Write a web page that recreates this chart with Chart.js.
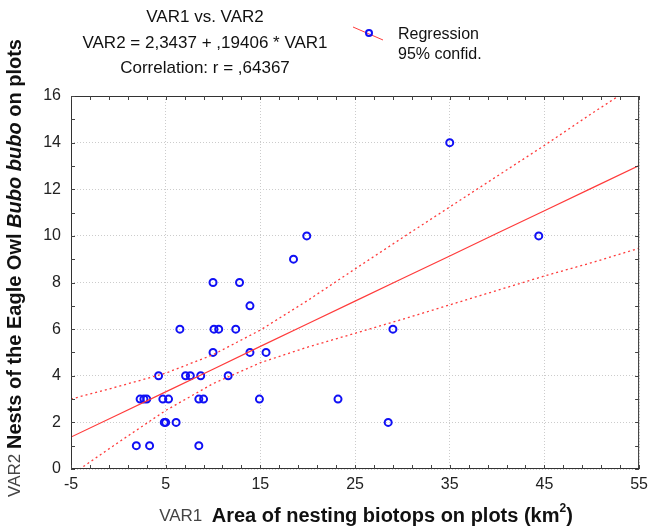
<!DOCTYPE html>
<html>
<head>
<meta charset="utf-8">
<script src="https://cdn.jsdelivr.net/npm/chart.js@4/dist/chart.umd.min.js"></script>
<style>
  html, body { margin: 0; padding: 0; background: #fff; }
  #wrap { width: 654px; height: 528px; }
</style>
</head>
<body>
<div id="wrap"><canvas id="chart" width="654" height="528"></canvas></div>
<script>
// observations (VAR1 = area km2, VAR2 = nests)
const var1 = [10, 12.8, 13.9, 6.5, 10.1, 10.6, 12.4, 10, 13.9, 15.6,
              4.25, 7.1, 7.6, 8.7, 11.6, 2.3, 2.7, 3.0, 4.7, 5.3,
              8.5, 9.0, 14.9, 4.85, 5.0, 6.1, 1.9, 3.3, 8.5, 35,
              19.9, 44.4, 18.5, 23.2, 29, 28.5];
const var2 = [8, 8, 7, 6, 6, 6, 6, 5, 5, 5,
              4, 4, 4, 4, 4, 3, 3, 3, 3, 3,
              3, 3, 3, 2, 2, 2, 1, 1, 1, 14,
              10, 10, 9, 3, 6, 2];

// regression line and 95% band, read at these x positions
const lineX = [-5, 0, 5, 10, 15, 20, 25, 30, 35, 40, 45, 50, 55];
const regY = [1.37, 2.34, 3.31, 4.28, 5.26, 6.23, 7.2, 8.17, 9.14, 10.11, 11.08, 12.05, 13.02];
const upperY = [3.0, 3.54, 4.11, 4.9, 5.96, 7.23, 8.58, 9.92, 11.24, 12.56, 13.88, 15.25, 16.57];
const lowerY = [-0.26, 1.14, 2.51, 3.66, 4.56, 5.23, 5.82, 6.42, 7.04, 7.66, 8.28, 8.85, 9.47];

const titleLines = ['VAR1 vs. VAR2', 'VAR2 = 2,3437 + ,19406 * VAR1', 'Correlation: r = ,64367'];
const legendLabels = ['Regression', '95% confid.'];

const RED = '#ff3b3b';
const BLUE = '#1010f5';
const FONT = '"Liberation Sans", Arial, sans-serif';
const NARROW = '"Liberation Sans Narrow", "Liberation Sans", Arial, sans-serif';

function toXY(xs, ys) {
  return xs.map((x, i) => ({x: x, y: ys[i]}));
}

const extras = {
  id: 'extras',
  afterDraw(chart) {
    const ctx = chart.ctx;
    const a = chart.chartArea;
    const sx = chart.scales.x, sy = chart.scales.y;
    ctx.save();

    // frame
    ctx.strokeStyle = '#333';
    ctx.lineWidth = 1;
    ctx.strokeRect(a.left + 0.5, a.top + 0.5, a.right - a.left - 1, a.bottom - a.top - 1);

    // minor ticks pointing inward
    ctx.strokeStyle = '#444';
    ctx.beginPath();
    for (let v = -5; v <= 55; v += 2) {
      const px = Math.round(sx.getPixelForValue(v)) + 0.5;
      ctx.moveTo(px, a.bottom); ctx.lineTo(px, a.bottom - 4);
      ctx.moveTo(px, a.top); ctx.lineTo(px, a.top + 4);
    }
    for (let v = 0; v <= 16; v += 1) {
      const py = Math.round(sy.getPixelForValue(v)) + 0.5;
      ctx.moveTo(a.left, py); ctx.lineTo(a.left + 4, py);
      ctx.moveTo(a.right, py); ctx.lineTo(a.right - 4, py);
    }
    ctx.stroke();

    // title block
    ctx.fillStyle = '#111';
    ctx.font = '17px ' + FONT;
    ctx.textAlign = 'center';
    ctx.textBaseline = 'middle';
    const ty = [17, 43, 68];
    titleLines.forEach((t, i) => ctx.fillText(t, 205, ty[i]));

    // legend
    ctx.strokeStyle = RED;
    ctx.lineWidth = 1;
    ctx.beginPath();
    ctx.moveTo(353, 27); ctx.lineTo(383, 40);
    ctx.stroke();
    ctx.strokeStyle = BLUE;
    ctx.lineWidth = 2;
    ctx.beginPath();
    ctx.arc(369, 33, 3, 0, Math.PI * 2);
    ctx.stroke();
    ctx.textAlign = 'left';
    ctx.fillStyle = '#111';
    ctx.font = '16px ' + FONT;
    ctx.fillText(legendLabels[0], 398, 35);
    ctx.fillText(legendLabels[1], 398, 55);

    // x axis title
    const xParts = [
      {t: 'VAR1  ', f: '17px ' + NARROW, c: '#444'},
      {t: 'Area of nesting biotops on plots (km', f: 'bold 20px ' + FONT, c: '#111'},
      {t: '2', f: 'bold 12px ' + FONT, c: '#111', up: 7},
      {t: ')', f: 'bold 20px ' + FONT, c: '#111'}
    ];
    drawParts(ctx, xParts, 366, 516);

    // y axis title (rotated)
    ctx.translate(15, 268);
    ctx.rotate(-Math.PI / 2);
    const yParts = [
      {t: 'VAR2 ', f: '17px ' + NARROW, c: '#444'},
      {t: 'Nests of the Eagle Owl ', f: 'bold 20px ' + FONT, c: '#111'},
      {t: 'Bubo bubo', f: 'italic bold 20px ' + FONT, c: '#111'},
      {t: ' on plots', f: 'bold 20px ' + FONT, c: '#111'}
    ];
    drawParts(ctx, yParts, 0, 0);
    ctx.restore();
  }
};

function drawParts(ctx, parts, cx, cy) {
  let w = 0;
  parts.forEach(p => { ctx.font = p.f; w += ctx.measureText(p.t).width; });
  let x = cx - w / 2;
  ctx.textAlign = 'left';
  ctx.textBaseline = 'middle';
  parts.forEach(p => {
    ctx.font = p.f;
    ctx.fillStyle = p.c;
    ctx.fillText(p.t, x, cy - (p.up || 0));
    x += ctx.measureText(p.t).width;
  });
}

new Chart(document.getElementById('chart'), {
  type: 'scatter',
  data: {
    datasets: [
      {
        label: 'upper',
        type: 'line',
        data: toXY(lineX, upperY),
        borderColor: RED,
        borderWidth: 1.3,
        borderDash: [2, 3],
        pointRadius: 0,
        fill: false
      },
      {
        label: 'lower',
        type: 'line',
        data: toXY(lineX, lowerY),
        borderColor: RED,
        borderWidth: 1.3,
        borderDash: [2, 3],
        pointRadius: 0,
        fill: false
      },
      {
        label: 'Regression',
        type: 'line',
        data: toXY(lineX, regY),
        borderColor: RED,
        borderWidth: 1.2,
        pointRadius: 0,
        fill: false
      },
      {
        label: 'data',
        data: toXY(var1, var2),
        pointStyle: 'circle',
        pointRadius: 3.5,
        borderColor: BLUE,
        borderWidth: 2,
        backgroundColor: 'rgba(255,255,255,0)'
      }
    ]
  },
  options: {
    responsive: false,
    animation: false,
    layout: {padding: {top: 96, right: 10, left: 0, bottom: 0}},
    plugins: {
      legend: {display: false},
      title: {display: false},
      tooltip: {enabled: false}
    },
    scales: {
      x: {
        type: 'linear',
        min: -5,
        max: 55,
        afterFit: s => { s.height = 59; },
        ticks: {
          stepSize: 10,
          color: '#222',
          font: {family: FONT, size: 16},
          padding: 6
        },
        grid: {
          color: '#cccccc',
          drawTicks: false
        },
        border: {display: false, dash: [1, 2]}
      },
      y: {
        type: 'linear',
        min: 0,
        max: 16,
        afterFit: s => { s.width = 71; },
        ticks: {
          stepSize: 2,
          color: '#222',
          font: {family: FONT, size: 16},
          padding: 10
        },
        grid: {
          color: '#cccccc',
          drawTicks: false
        },
        border: {display: false, dash: [1, 2]}
      }
    }
  },
  plugins: [extras]
});
</script>
</body>
</html>
